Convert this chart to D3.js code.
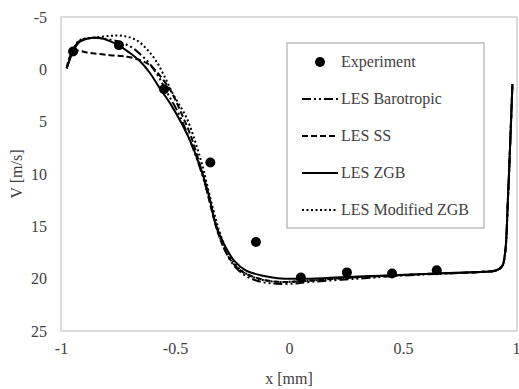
<!DOCTYPE html>
<html>
<head>
<meta charset="utf-8">
<script src="https://cdn.jsdelivr.net/npm/d3@7"></script>
<style>
  body { margin: 0; background: #fff; }
</style>
</head>
<body>
<svg id="chart" width="519" height="389" font-family="'Liberation Serif', 'DejaVu Serif', serif"></svg>
<script>
const W = 519;
const H = 389;
const FONT = "'Liberation Serif', 'DejaVu Serif', serif";

// experiment points
const expX = [-0.947, -0.746, -0.548, -0.345, -0.145, 0.052, 0.254, 0.452, 0.648];
const expV = [-1.7, -2.3, 1.9, 8.9, 16.5, 19.9, 19.4, 19.5, 19.2];

// LES ZGB (solid)
const zgbX = [-0.975, -0.947, -0.92, -0.87, -0.83, -0.785, -0.74, -0.70, -0.65, -0.61, -0.57, -0.52, -0.47, -0.43, -0.40, -0.37, -0.345, -0.325, -0.30, -0.27, -0.24, -0.19, -0.12, -0.05, 0.05, 0.15, 0.3, 0.5, 0.7, 0.85, 0.91, 0.935, 0.948, 0.96, 0.972, 0.98];
const zgbV = [-0.1, -1.7, -2.6, -3.0, -3.0, -2.7, -2.2, -1.6, -0.7, 0.35, 1.7, 3.3, 5.2, 7.0, 8.7, 10.6, 12.6, 14.6, 16.0, 17.3, 18.3, 19.2, 19.7, 19.95, 20.0, 19.95, 19.8, 19.65, 19.45, 19.35, 19.2, 18.8, 17.5, 12.5, 6.0, 1.4];

// LES Barotropic (dash-dot)
const baroX = [-0.975, -0.947, -0.92, -0.87, -0.80, -0.74, -0.69, -0.65, -0.61, -0.57, -0.53, -0.48, -0.44, -0.40, -0.365, -0.335, -0.31, -0.28, -0.25, -0.2, -0.14, -0.08, 0.0, 0.1, 0.3, 0.5, 0.7, 0.85, 0.91, 0.935, 0.948, 0.96, 0.972, 0.98];
const baroV = [-0.1, -1.8, -2.7, -3.0, -2.9, -2.6, -2.1, -1.4, -0.5, 0.8, 2.4, 4.4, 6.5, 8.8, 11.2, 13.6, 15.6, 17.3, 18.5, 19.6, 20.2, 20.45, 20.5, 20.3, 20.0, 19.7, 19.5, 19.35, 19.2, 18.8, 17.5, 12.5, 6.0, 1.4];

// LES SS (dashed)
const ssX = [-0.975, -0.947, -0.87, -0.785, -0.71, -0.655, -0.61, -0.58, -0.52, -0.47, -0.43, -0.395, -0.365, -0.34, -0.315, -0.285, -0.25, -0.2, -0.13, -0.05, 0.05, 0.2, 0.4, 0.6, 0.85, 0.91, 0.935, 0.948, 0.96, 0.972, 0.98];
const ssV = [-0.1, -1.7, -1.55, -1.35, -1.2, -0.9, -0.4, 0.25, 2.0, 4.3, 6.4, 8.8, 11.2, 13.4, 15.4, 17.1, 18.4, 19.4, 20.0, 20.3, 20.25, 20.0, 19.75, 19.55, 19.35, 19.2, 18.8, 17.5, 12.5, 6.0, 1.4];

// LES Modified ZGB (dotted)
const modX = [-0.975, -0.947, -0.917, -0.86, -0.785, -0.73, -0.67, -0.62, -0.58, -0.55, -0.51, -0.45, -0.41, -0.38, -0.355, -0.33, -0.305, -0.275, -0.24, -0.19, -0.12, -0.05, 0.05, 0.2, 0.4, 0.6, 0.85, 0.91, 0.935, 0.948, 0.96, 0.972, 0.98];
const modV = [-0.1, -1.9, -2.8, -3.0, -3.2, -3.2, -2.8, -1.85, -0.7, 0.5, 2.3, 4.6, 7.0, 9.2, 11.4, 13.6, 15.5, 17.2, 18.5, 19.5, 20.1, 20.3, 20.25, 20.0, 19.75, 19.55, 19.35, 19.2, 18.8, 17.5, 12.5, 6.0, 1.4];

const xTicks = [-1, -0.5, 0, 0.5, 1];
const yTicks = [-5, 0, 5, 10, 15, 20, 25];

const series = [
  { name: 'LES Barotropic', xs: baroX, vs: baroV, dash: '9,3,2,3,2,3' },
  { name: 'LES SS', xs: ssX, vs: ssV, dash: '6,3' },
  { name: 'LES ZGB', xs: zgbX, vs: zgbV, dash: null },
  { name: 'LES Modified ZGB', xs: modX, vs: modV, dash: '2,2.5' }
];

const m = { top: 17, right: 2, bottom: 58, left: 61 };
const w = W - m.left - m.right;
const h = H - m.top - m.bottom;

const svg = d3.select('#chart');
const g = svg.append('g').attr('transform', `translate(${m.left},${m.top})`);

const x = d3.scaleLinear().domain([-1, 1]).range([0, w]);
const y = d3.scaleLinear().domain([-5, 25]).range([0, h]);

// frame
g.append('rect').attr('width', w).attr('height', h)
  .attr('fill', 'none').attr('stroke', '#d0d0d0').attr('stroke-width', 1.5);

// axes (labels only)
g.append('g').attr('transform', `translate(0,${h})`)
  .call(d3.axisBottom(x).tickValues(xTicks).tickSize(0).tickPadding(12).tickFormat(d => String(d)))
  .attr('font-family', FONT).attr('font-size', 16);
g.append('g')
  .call(d3.axisLeft(y).tickValues(yTicks).tickSize(0).tickPadding(14).tickFormat(d => String(d)))
  .attr('font-family', FONT).attr('font-size', 16);
g.selectAll('.domain').remove();
g.selectAll('.tick text').attr('fill', '#404040');
// last x label sits on the right edge
g.selectAll('.tick text').filter(d => d === 1).attr('text-anchor', 'end').attr('dx', 3);

svg.append('text').attr('x', m.left + w / 2).attr('y', 384)
  .attr('text-anchor', 'middle').attr('font-size', 16).attr('fill', '#404040').text('x [mm]');
svg.append('text').attr('transform', `translate(22,${m.top + h / 2}) rotate(-90)`)
  .attr('text-anchor', 'middle').attr('font-size', 16).attr('fill', '#404040').text('V [m/s]');

// curves
const line = d3.line().x(d => x(d[0])).y(d => y(d[1])).curve(d3.curveCatmullRom.alpha(0.5));
series.forEach(s => {
  g.append('path').datum(s.xs.map((v, i) => [v, s.vs[i]]))
    .attr('fill', 'none').attr('stroke', '#000').attr('stroke-width', 2)
    .attr('stroke-dasharray', s.dash)
    .attr('d', line);
});

// experiment
g.selectAll('circle.exp').data(expX.map((v, i) => [v, expV[i]])).join('circle')
  .attr('class', 'exp')
  .attr('cx', d => x(d[0])).attr('cy', d => y(d[1])).attr('r', 5).attr('fill', '#000');

// legend
const lg = svg.append('g').attr('transform', 'translate(287,43)');
lg.append('rect').attr('width', 197).attr('height', 185)
  .attr('fill', '#fff').attr('stroke', '#bfbfbf').attr('stroke-width', 1.5);
const rows = [{ name: 'Experiment', dot: true }].concat(series);
rows.forEach((r, i) => {
  const ry = 19 + i * 37;
  if (r.dot) {
    lg.append('circle').attr('cx', 33).attr('cy', ry).attr('r', 5).attr('fill', '#000');
  } else {
    lg.append('line').attr('x1', 15).attr('x2', 51).attr('y1', ry).attr('y2', ry)
      .attr('stroke', '#000').attr('stroke-width', 2).attr('stroke-dasharray', r.dash);
  }
  lg.append('text').attr('x', 54).attr('y', ry + 5).attr('font-size', 16)
    .attr('fill', '#404040').text(r.name);
});
</script>
</body>
</html>
